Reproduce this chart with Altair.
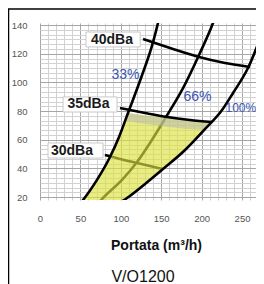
import altair as alt
import pandas as pd

# ---- data (flow m3/h, pressure) ----
c33_x = [49.0, 53.2, 70.5, 86.6, 97.8, 108.9, 125.0, 139.9, 146.0, 148.5]
c33_y = [15.2, 18.0, 32.0, 48.0, 62.0, 78.7, 103.1, 128.2, 141.5, 147.8]

c66_x = [73.5, 78.0, 101.5, 120.1, 136.1, 155.9, 177.0, 196.8, 214.1, 217.8]
c66_y = [16.6, 19.4, 32.0, 44.5, 57.8, 75.9, 96.1, 119.2, 141.5, 147.1]

c100_x = [96.0, 107.7, 130.0, 152.2, 179.5, 203.0, 225.3, 238.9, 257.4, 277.2, 287.0]
c100_y = [15.2, 19.4, 29.2, 39.6, 52.9, 66.8, 80.8, 92.7, 110.1, 137.5, 151.0]

db40_x = [127.5, 160.9, 196.8, 229.0, 259.9]
db40_y = [130.3, 124.1, 117.8, 113.6, 110.8]
db35_x = [99.0, 130.0, 157.2, 185.6, 212.9]
db35_y = [82.2, 78.7, 75.9, 73.8, 72.4]
db30_x = [80.4, 99.0, 120.1, 136.1, 152.2]
db30_y = [49.4, 46.6, 43.8, 41.7, 39.6]

yel_x = [49.0, 53.2, 70.5, 86.6, 97.8, 107.7, 108.9, 130.0, 152.2, 179.5, 203.0, 210.4]
yel_top = [15.2, 18.0, 32.0, 48.0, 62.0, 76.6, 78.7, 77.0, 75.6, 74.2, 73.1, 72.4]
yel_bot = [15.0, 15.0, 15.0, 15.0, 15.8, 19.4, 20.1, 29.2, 39.6, 52.9, 66.8, 71.7]

band_x = [104.5, 108.9, 130.0, 152.2, 179.5, 203.0, 210.4]
band_top = [72.6, 78.7, 77.0, 75.6, 74.2, 73.1, 72.4]
band_bot = [72.6, 72.9, 71.2, 69.5, 67.8, 66.8, 71.7]

db_labels = ["40dBa", "35dBa", "30dBa"]
db_lab_x = [89.1, 60.0, 39.6]
db_lab_y = [129.6, 85.0, 52.2]
box_x1 = [56.9, 28.5, 9.9]
box_x2 = [124.0, 95.3, 78.0]
box_y1 = [124.8, 79.4, 47.3]
box_y2 = [135.2, 89.9, 57.8]

pct_labels = ["33%", "66%", "100%"]
pct_x = [105.8, 194.9, 229.5]
pct_y = [105.2, 89.9, 82.5]
pct_align = ["center", "center", "left"]

x_ticks = list(range(0, 270, 10))
y_ticks = [round(20 + i * 20 / 6, 3) for i in range(0, 37)]

FONT = "Liberation Sans"

xscale = alt.Scale(domain=[0, 267.3], nice=False, zero=False)
yscale = alt.Scale(domain=[18, 141.5], nice=False, zero=False)

xaxis = alt.Axis(
    values=x_ticks, grid=True,
    gridColor={"condition": {"test": "datum.value % 50 === 0", "value": "#a6a6a6"}, "value": "#d2d2d2"},
    gridWidth=1, ticks=False, domain=False,
    labelExpr="datum.value % 50 === 0 ? datum.label : ''",
    labelFlush=False, labelOverlap=False, labelFontSize=9.5, labelColor="#555",
    labelPadding=13, labelFont=FONT,
    title="Portata (m³/h)", titleFontSize=14, titleFont=FONT, titleFontWeight="bold",
    titleColor="#111", titleX=116, titleY=45, titleAlign="center", titleBaseline="middle",
)
yaxis = alt.Axis(
    values=y_ticks, grid=True,
    gridColor={"condition": {"test": "abs(datum.value % 20) < 0.01 || abs(datum.value % 20 - 20) < 0.01", "value": "#a6a6a6"}, "value": "#d2d2d2"},
    gridWidth=1, ticks=False, domain=False,
    labelExpr="(abs(datum.value % 20) < 0.01 || abs(datum.value % 20 - 20) < 0.01) ? '' + round(datum.value) : ''",
    labelFlush=False, labelOverlap=False, labelFontSize=9.5, labelColor="#555",
    labelPadding=13, labelFont=FONT, title="",
)


def X(f):
    return alt.X(f, type="quantitative", scale=xscale, axis=xaxis)


def Y(f):
    return alt.Y(f, type="quantitative", scale=yscale, axis=yaxis)


def line(xs, ys, color="black", width=2.6):
    df = pd.DataFrame({"x": xs, "y": ys, "o": list(range(len(xs)))})
    return alt.Chart(df).mark_line(color=color, strokeWidth=width, clip=True, interpolate="monotone").encode(
        x=X("x"), y=Y("y"), order="o:Q")


under = line(c66_x, c66_y) + line(db30_x, db30_y)

yel = alt.Chart(pd.DataFrame({"x": yel_x, "t": yel_top, "b": yel_bot})).mark_area(
    color="#dde040", opacity=0.65, clip=True).encode(x=X("x"), y=Y("t"), y2="b")
band = alt.Chart(pd.DataFrame({"x": band_x, "t": band_top, "b": band_bot})).mark_area(
    color="#b4b8b8", opacity=0.5, clip=True).encode(x=X("x"), y=Y("t"), y2="b")

over = line(c33_x, c33_y) + line(c100_x, c100_y) + line(db35_x, db35_y) + line(db40_x, db40_y)

boxes = alt.Chart(pd.DataFrame({"x1": box_x1, "x2": box_x2, "y1": box_y1, "y2": box_y2})).mark_rect(
    fill="white", stroke="#c8c8c8", strokeWidth=1).encode(x=X("x1"), x2="x2", y=Y("y1"), y2="y2")
dbtext = alt.Chart(pd.DataFrame({"x": db_lab_x, "y": db_lab_y, "t": db_labels})).mark_text(
    font=FONT, fontSize=14, fontWeight="bold", color="#1a1a1a", align="center", baseline="middle").encode(
    x=X("x"), y=Y("y"), text="t:N")

pct_df = pd.DataFrame({"x": pct_x, "y": pct_y, "t": pct_labels, "a": pct_align})
pct_c = alt.Chart(pct_df[pct_df.a == "center"]).mark_text(
    font=FONT, fontSize=14, color="#3a55b4", align="center", baseline="middle").encode(
    x=X("x"), y=Y("y"), text="t:N")
pct_l = alt.Chart(pct_df[pct_df.a == "left"]).mark_text(
    font=FONT, fontSize=12, color="#3a55b4", align="left", baseline="middle").encode(
    x=X("x"), y=Y("y"), text="t:N")

one = pd.DataFrame({"c": ["V/O1200"]})
border_v = alt.Chart(one).mark_rule(color="black", strokeWidth=1.3).encode(
    x=alt.value(-31.4), y=alt.value(-14), y2=alt.value(262))
border_h = alt.Chart(one).mark_rule(color="black", strokeWidth=1.3).encode(
    x=alt.value(-33), x2=alt.value(226), y=alt.value(-14))
caption = alt.Chart(one).mark_text(font=FONT, fontSize=16, color="#111", align="center", baseline="middle").encode(
    x=alt.value(103), y=alt.value(254), text="c:N")

chart = alt.layer(
    under, yel, band, over, boxes, dbtext, pct_c, pct_l, border_v, border_h, caption
).properties(
    width=216, height=177,
    autosize=alt.AutoSizeParams(type="none"),
    padding={"left": 32, "top": 15, "right": 0, "bottom": 84},
    background="white",
).configure_view(stroke="transparent")

chart.save("out.html", embed_options={"renderer": "svg", "actions": False})
